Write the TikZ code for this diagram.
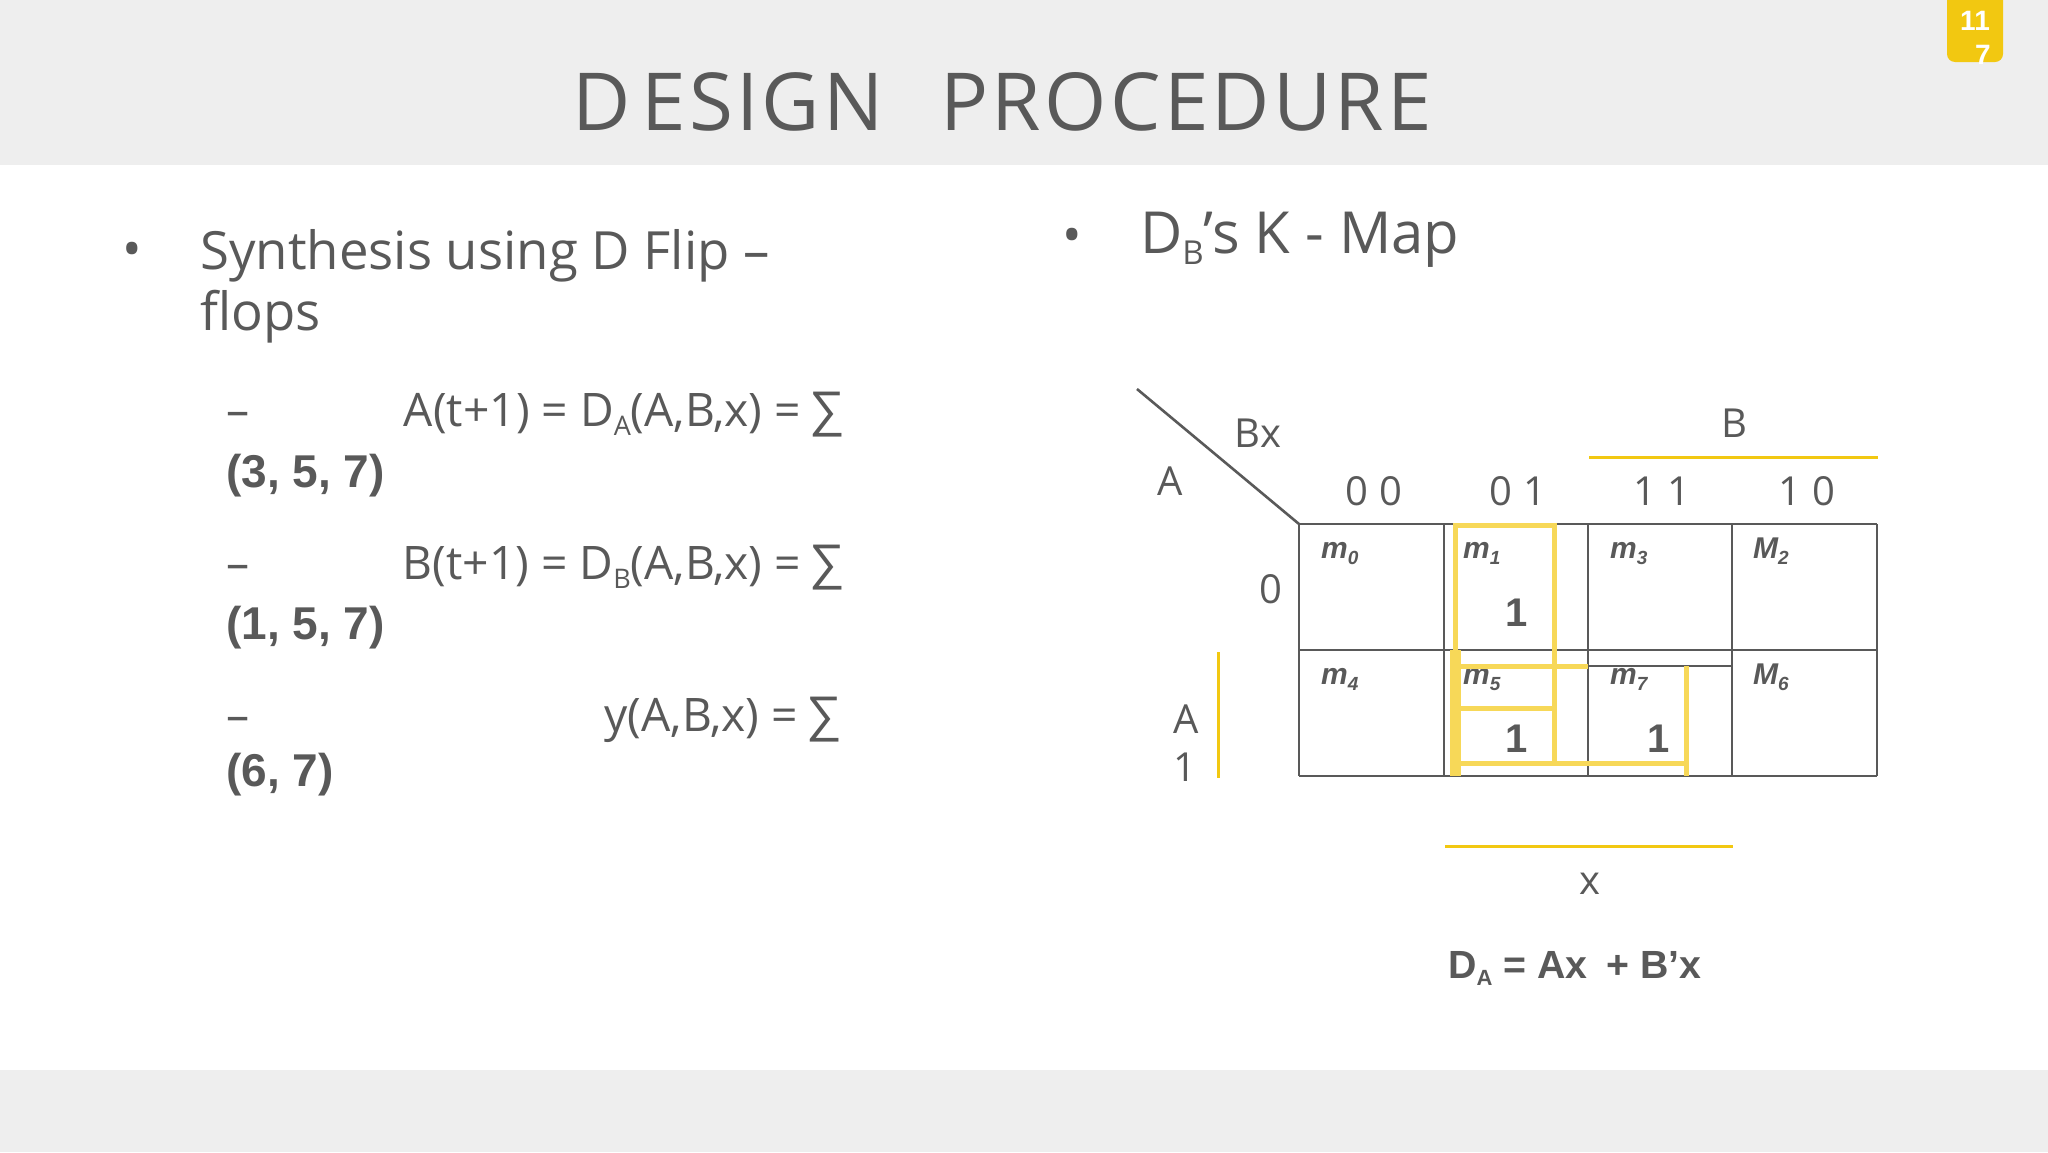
\documentclass[tikz,border=0pt]{standalone}
\usepackage{fontspec}
\usepackage{xcolor}
\setmainfont{Open Sans}
\newfontfamily\arialfont{Liberation Sans}
\newfontfamily\titlefont[LetterSpace=4]{Open Sans}
\definecolor{bandgray}{HTML}{EEEEEE}
\definecolor{inkgray}{HTML}{595959}
\definecolor{markyellow}{HTML}{F7D858}
\definecolor{baryellow}{HTML}{F2C811}
\newcommand{\px}[1]{\fontsize{#1}{#1}\selectfont}
\newcommand{\lowsize}[2]{\raisebox{-0.2em}{\px{#1}#2}}
\tikzset{
  body/.style={anchor=base west,inner sep=0pt,text=inkgray,font=\px{52.7}},
  sumtext/.style={anchor=base east,inner sep=0pt,text=inkgray,font=\px{46.2}},
  sumbold/.style={anchor=base west,inner sep=0pt,text=inkgray,font=\arialfont\bfseries\px{46}},
  axis/.style={inner sep=0pt,text=inkgray,font=\px{40}},
  cellname/.style={anchor=base west,inner sep=0pt,text=inkgray,font=\arialfont\bfseries\itshape\px{30}},
  cellone/.style={inner sep=0pt,text=inkgray,font=\arialfont\bfseries\px{40}},
  gridline/.style={draw=inkgray,line width=2.6pt},
  loopline/.style={draw=markyellow,line width=5pt},
}
\begin{document}
\begin{tikzpicture}[x=1pt,y=-1pt]
\useasboundingbox (0,0) rectangle (2048,1152);
\fill[white] (0,0) rectangle (2048,1152);
\fill[bandgray] (0,0) rectangle (2048,165);
\fill[bandgray] (0,1070) rectangle (2048,1152);
\fill[baryellow,rounded corners=8pt] (1947,-20) rectangle (2003,62);
\node (num1) at (1975,21) [inner sep=0pt,text=white,font=\arialfont\bfseries\px{28}] {11};
\node (num2) [anchor=base,inner sep=0pt,text=white,font=\arialfont\bfseries\px{28}] at (1983,64) {7};
\node (titlea) at (572,130) [anchor=base west,inner sep=0pt,text=inkgray,font=\titlefont\px{80}] {D\hspace{11pt}ESIGN};
\node (titleb) at (940,130) [anchor=base west,inner sep=0pt,text=inkgray,font=\titlefont\px{80}] {PRO\hspace{4pt}CEDU\hspace{3pt}RE};

\node (dotleft) at (132,255) [inner sep=0pt,text=inkgray,font=\px{52}] {•};
\node (synth) at (200,269) [body] {Synthesis using D Flip –};
\node (flops) at (200,330) [body] {flops};

\node (dasha) at (226,426) [sumtext,anchor=base west] {–};
\node (suma) at (801,426) [sumtext] {A(t+1) = D\lowsize{27}{A}(A,B,x) =};
\node (siga) at (845,426) [sumtext,font=\arialfont\px{50}] {∑};
\node (seta) at (226,487) [sumbold] {(3, 5, 7)};
\node (dashb) at (226,579) [sumtext,anchor=base west] {–};
\node (sumb) at (801,579) [sumtext] {B(t+1) = D\lowsize{27}{B}(A,B,x) =};
\node (sigb) at (845,579) [sumtext,font=\arialfont\px{50}] {∑};
\node (setb) at (226,639) [sumbold] {(1, 5, 7)};
\node (dashy) at (226,731) [sumtext,anchor=base west] {–};
\node (sumy) at (798,731) [sumtext] {y(A,B,x) =};
\node (sigy) at (842,731) [sumtext,font=\arialfont\px{50}] {∑};
\node (sety) at (226,786) [sumbold] {(6, 7)};

\node (dotright) at (1072,241) [inner sep=0pt,text=inkgray,font=\px{52}] {•};
\node (mapname) at (1140,253) [body,font=\px{58}] {D\lowsize{33}{B}’s K - Map};

\coordinate (corner) at (1299,524);
\coordinate (diagstart) at (1137,389);
\draw[inkgray,line width=2.6pt] (diagstart) -- (corner);
\foreach \x in {1299,1444,1588,1732,1877}
  \draw[gridline] (\x,524) -- (\x,776);
\foreach \y in {524,650,776}
  \draw[gridline] (1299,\y) -- (1877,\y);
\draw[gridline] (1588,666) -- (1732,666);

\node (bx) at (1258,433) [axis] {Bx};
\node (rowa) at (1170,481) [axis] {A};
\node (barb) at (1734,423) [axis] {B};
\node (col0) at (1374,491) [axis] {0 0};
\node (col1) at (1518,491) [axis] {0 1};
\node (col2) at (1662,491) [axis] {1 1};
\node (col3) at (1807,491) [axis] {1 0};
\node (row0) at (1271,589) [axis] {0};
\node (bara) at (1186,719) [axis] {A};
\node (row1) at (1185,767) [axis] {1};
\node (barx) at (1590,884) [axis] {x};

\draw[baryellow,line width=3pt] (1589,457) -- (1878,457);
\draw[baryellow,line width=3pt] (1218,652) -- (1218,778);
\draw[baryellow,line width=3pt] (1445,846) -- (1733,846);

\foreach \name/\sub/\x/\y in {m/0/1321/558,m/1/1463/558,m/3/1610/558,M/2/1753/558,m/4/1321/684,m/5/1463/684,m/7/1610/684,M/6/1753/684}
  \node (cell\sub) at (\x,\y) [cellname] {\name\lowsize{19}{\sub}};

\draw[loopline] (1455.5,524) -- (1455.5,650);
\draw[loopline] (1453,525) -- (1557,525);
\draw[loopline] (1554.5,524) -- (1554.5,763);
\draw[loopline,line width=11pt] (1455.5,650) -- (1455.5,776);
\draw[loopline] (1458,666) -- (1588,666);
\draw[loopline] (1458,708.5) -- (1554,708.5);
\draw[loopline] (1458,763) -- (1688,763);
\draw[loopline] (1686,666) -- (1686,776);

\node (one1) at (1517,613) [cellone] {1};
\node (one5) at (1517,739) [cellone] {1};
\node (one7) at (1659,739) [cellone] {1};

\node (result) at (1448,978) [anchor=base west,inner sep=0pt,text=inkgray,font=\arialfont\bfseries\px{39.3}] {D\lowsize{22}{A} = Ax\hspace{0.2em} + B’x};
\end{tikzpicture}
\end{document}
